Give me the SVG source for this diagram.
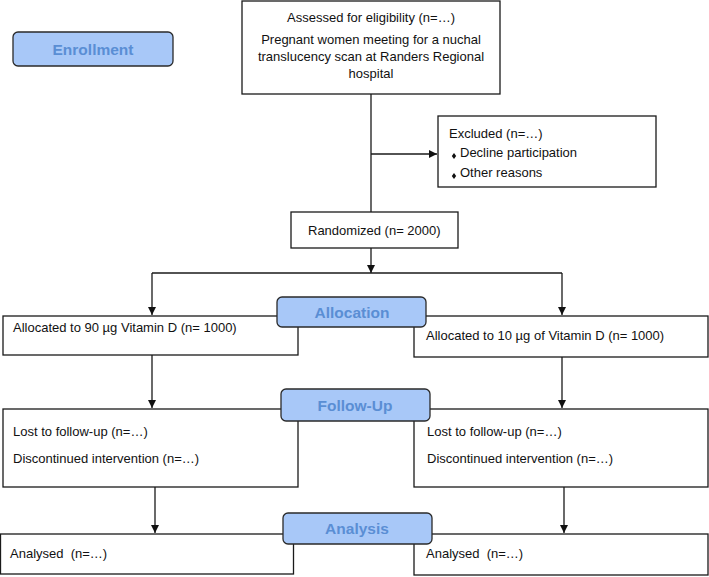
<svg xmlns="http://www.w3.org/2000/svg" width="709" height="577" viewBox="0 0 709 577">
<defs>
<marker id="arr" markerWidth="9" markerHeight="9" refX="8" refY="4" orient="auto" markerUnits="userSpaceOnUse">
<path d="M0,0 L8,4 L0,8 z" fill="#111"/>
</marker>
<style>
.box{fill:#fff;stroke:#1a1a1a;stroke-width:1.3}
.pill{fill:#a8c8f8;stroke:#2a2a2a;stroke-width:1.3}
.pt{font-family:"Liberation Sans",Arial,sans-serif;font-weight:bold;font-size:15.5px;fill:#5a8ed4;text-anchor:middle}
.t{font-family:"Liberation Sans",Arial,sans-serif;font-size:13px;fill:#111;white-space:pre}
.c{text-anchor:middle}
.ln{fill:none;stroke:#1a1a1a;stroke-width:1.3}
</style>
</defs>
<rect width="709" height="577" fill="#fff"/>
<g id="connectors">
<path class="ln" d="M371,94 V212"/>
<path class="ln" d="M371,154 H437" marker-end="url(#arr)"/>
<path class="ln" d="M371,248 V273" marker-end="url(#arr)"/>
<path class="ln" d="M152,273 H562"/>
<path class="ln" d="M152,273 V315" marker-end="url(#arr)"/>
<path class="ln" d="M562,273 V315" marker-end="url(#arr)"/>
<path class="ln" d="M152,355 V408" marker-end="url(#arr)"/>
<path class="ln" d="M562,357 V408" marker-end="url(#arr)"/>
<path class="ln" d="M155,487 V533" marker-end="url(#arr)"/>
<path class="ln" d="M564,487 V533" marker-end="url(#arr)"/>
</g>
<g id="assessed">
<rect class="box" x="242" y="1" width="258" height="93"/>
<text class="t c" x="371" y="22">Assessed for eligibility (n=…)</text>
<text class="t c" x="371" y="44">Pregnant women meeting for a nuchal</text>
<text class="t c" x="371" y="61">translucency scan at Randers Regional</text>
<text class="t c" x="371" y="78">hospital</text>
</g>
<g id="excluded">
<rect class="box" x="438" y="116" width="218" height="71"/>
<text class="t" x="449" y="138">Excluded (n=…)</text>
<path d="M454,153 l2.2,3 l-2.2,3 l-2.2,-3 z" fill="#111"/>
<text class="t" x="460" y="157">Decline participation</text>
<path d="M454,173 l2.2,3 l-2.2,3 l-2.2,-3 z" fill="#111"/>
<text class="t" x="460" y="177">Other reasons</text>
</g>
<g id="randomized">
<rect class="box" x="291" y="212" width="167" height="36"/>
<text class="t" x="308" y="235">Randomized (n= 2000)</text>
</g>
<g id="alloc-left">
<rect class="box" x="3" y="316" width="295" height="39"/>
<text class="t" x="13" y="332">Allocated to 90 µg Vitamin D (n= 1000)</text>
</g>
<g id="alloc-right">
<rect class="box" x="414" y="316" width="294" height="41"/>
<text class="t" x="426" y="340">Allocated to 10 µg of Vitamin D (n= 1000)</text>
</g>
<g id="follow-left">
<rect class="box" x="3" y="409" width="295" height="78"/>
<text class="t" x="13" y="436">Lost to follow-up (n=…)</text>
<text class="t" x="13" y="463">Discontinued intervention (n=…)</text>
</g>
<g id="follow-right">
<rect class="box" x="414" y="409" width="294" height="78"/>
<text class="t" x="427" y="436">Lost to follow-up (n=…)</text>
<text class="t" x="427" y="463">Discontinued intervention (n=…)</text>
</g>
<g id="analysed-left">
<rect class="box" x="0.5" y="534" width="293" height="40"/>
<text class="t" x="10" y="558">Analysed  (n=…)</text>
</g>
<g id="analysed-right">
<rect class="box" x="414" y="534" width="294" height="41"/>
<text class="t" x="426" y="558">Analysed  (n=…)</text>
</g>
<g id="enrollment">
<rect class="pill" x="13" y="32" width="160" height="34" rx="5"/>
<text class="pt" x="93" y="55">Enrollment</text>
</g>
<g id="allocation">
<rect class="pill" x="277" y="297" width="149" height="30" rx="5"/>
<text class="pt" x="352" y="318">Allocation</text>
</g>
<g id="followup">
<rect class="pill" x="281" y="389" width="149" height="32" rx="5"/>
<text class="pt" x="355" y="411">Follow-Up</text>
</g>
<g id="analysis">
<rect class="pill" x="283" y="513" width="149" height="31" rx="5"/>
<text class="pt" x="357" y="534">Analysis</text>
</g>
</svg>
